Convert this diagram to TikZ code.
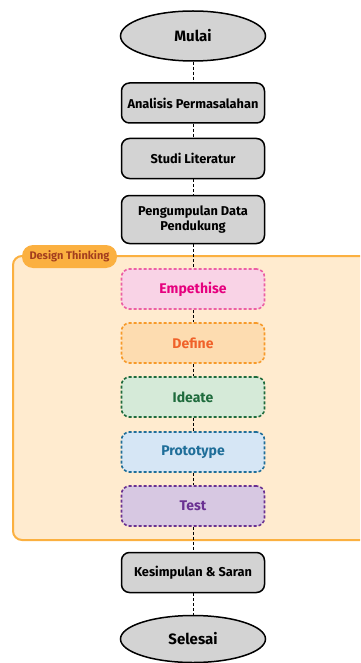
\documentclass[tikz,border=0pt]{standalone}
\usepackage{fontspec}
\setmainfont{Fira Sans}
\usetikzlibrary{shapes.geometric}

\definecolor{boxgray}{HTML}{D3D3D3}
\definecolor{dtfill}{HTML}{FFEBCF}
\definecolor{dtline}{HTML}{FBB040}
\definecolor{dttext}{HTML}{A33E1E}
\definecolor{empfill}{HTML}{F9D3E6}
\definecolor{empline}{HTML}{EC5FA5}
\definecolor{emptext}{HTML}{E6007E}
\definecolor{deffill}{HTML}{FDDCB0}
\definecolor{defline}{HTML}{F79A2A}
\definecolor{deftext}{HTML}{F0622A}
\definecolor{idefill}{HTML}{D5EAD8}
\definecolor{ideline}{HTML}{1E6B3C}
\definecolor{protofill}{HTML}{D6E6F5}
\definecolor{protoline}{HTML}{1F6E99}
\definecolor{testfill}{HTML}{D7C8E2}
\definecolor{testline}{HTML}{6A3192}

\tikzset{
  terminal/.style={ellipse, draw=black, line width=1.5pt, fill=boxgray,
    minimum width=145, minimum height=50, font=\bfseries\fontsize{15}{17}\selectfont},
  process/.style={rectangle, rounded corners=8, draw=black, line width=1.5pt, fill=boxgray,
    minimum width=143, minimum height=40, inner sep=1pt, align=center, font=\bfseries\fontsize{12.8}{15}\selectfont},
  phase/.style={rectangle, rounded corners=8, line width=1.6pt, dash pattern=on 3pt off 2pt,
    minimum width=143, minimum height=40, font=\bfseries\fontsize{14}{16}\selectfont},
  link/.style={line width=0.9pt, dash pattern=on 3pt off 2pt}
}

\begin{document}
\begin{tikzpicture}[x=1pt, y=-1pt]
  \useasboundingbox (0,0) rectangle (360,663);
  \clip (0,0) rectangle (360,663);

  % design thinking frame
  \draw[draw=dtline, fill=dtfill, line width=2pt, rounded corners=9] (13,256) rectangle (380,540);
  \node[fill=dtline, rounded corners=11, minimum width=95, minimum height=23, inner sep=0pt,
    text=dttext, font=\bfseries\fontsize{11}{12}\selectfont] (dt) at (69.5,256.5) {Design Thinking};

  \node[terminal] (mulai) at (193,36) {Mulai};
  \node[process] (analisis) at (193,103) {Analisis Permasalahan};
  \node[process] (studi) at (193,158.5) {Studi Literatur};
  \node[process, minimum height=48] (data) at (193,219.5) {Pengumpulan Data\\Pendukung};

  \node[phase, draw=empline, fill=empfill, text=emptext] (emp) at (193,289) {Empethise};
  \node[phase, draw=defline, fill=deffill, text=deftext] (def) at (193,343) {Define};
  \node[phase, draw=ideline, fill=idefill, text=ideline] (ide) at (193,397) {Ideate};
  \node[phase, draw=protoline, fill=protofill, text=protoline] (proto) at (193,452) {Prototype};
  \node[phase, draw=testline, fill=testfill, text=testline] (test) at (193,506) {Test};

  \node[process] (kesimpulan) at (193,572.5) {Kesimpulan \& Saran};
  \node[terminal, minimum height=47] (selesai) at (193,639) {Selesai};

  \draw[link] (mulai) -- (analisis);
  \draw[link] (analisis) -- (studi);
  \draw[link] (studi) -- (data);
  \draw[link] (data) -- (emp);
  \draw[link] (emp) -- (def);
  \draw[link] (def) -- (ide);
  \draw[link] (ide) -- (proto);
  \draw[link] (proto) -- (test);
  \draw[link] (test) -- (kesimpulan);
  \draw[link] (kesimpulan) -- (selesai);
\end{tikzpicture}
\end{document}
